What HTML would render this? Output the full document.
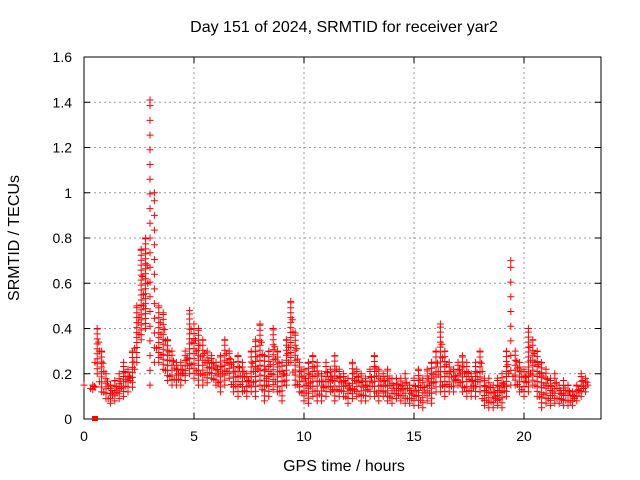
<!DOCTYPE html>
<html><head><meta charset="utf-8"><style>
body{margin:0;background:#fff}
svg{display:block;font-family:"Liberation Sans",sans-serif}
</style></head><body>
<svg id="chart" width="640" height="480">
<text x="344" y="32" font-size="16" text-anchor="middle">Day 151 of 2024, SRMTID for receiver yar2</text>
<text x="344" y="471" font-size="16" text-anchor="middle">GPS time / hours</text>
<text transform="translate(19,238) rotate(-90)" font-size="16" text-anchor="middle">SRMTID / TECUs</text>
<g id="grid"></g>
<g id="axes"></g>
<g id="marks"></g>
</svg>
<script>
const times=[0.4,0.6,0.8,1.0,1.2,1.4,1.6,1.8,2.0,2.2,2.4,2.6,2.8,3.0,3.2,3.4,3.6,3.8,4.0,4.2,4.4,4.6,4.8,5.0,5.2,5.4,5.6,5.8,6.0,6.2,6.4,6.6,6.8,7.0,7.2,7.4,7.6,7.8,8.0,8.2,8.4,8.6,8.8,9.0,9.2,9.4,9.6,9.8,10.0,10.2,10.4,10.6,10.8,11.0,11.2,11.4,11.6,11.8,12.0,12.2,12.4,12.6,12.8,13.0,13.2,13.4,13.6,13.8,14.0,14.2,14.4,14.6,14.8,15.0,15.2,15.4,15.6,15.8,16.0,16.2,16.4,16.6,16.8,17.0,17.2,17.4,17.6,17.8,18.0,18.2,18.4,18.6,18.8,19.0,19.2,19.4,19.6,19.8,20.0,20.2,20.4,20.6,20.8,21.0,21.2,21.4,21.6,21.8,22.0,22.2,22.4,22.6,22.8];
const hiVals=[0.15,0.40,0.30,0.20,0.15,0.17,0.20,0.25,0.22,0.30,0.50,0.75,0.80,1.41,1.00,0.50,0.47,0.35,0.30,0.25,0.25,0.30,0.48,0.42,0.40,0.35,0.30,0.28,0.25,0.28,0.35,0.30,0.25,0.28,0.25,0.20,0.30,0.35,0.42,0.28,0.30,0.40,0.30,0.25,0.35,0.52,0.38,0.25,0.22,0.25,0.28,0.25,0.20,0.25,0.22,0.28,0.22,0.20,0.18,0.25,0.22,0.20,0.18,0.22,0.28,0.22,0.20,0.22,0.18,0.18,0.18,0.20,0.15,0.18,0.22,0.18,0.22,0.25,0.30,0.42,0.30,0.25,0.22,0.25,0.28,0.25,0.20,0.25,0.30,0.18,0.18,0.15,0.18,0.20,0.30,0.70,0.30,0.25,0.22,0.40,0.35,0.30,0.25,0.22,0.18,0.20,0.15,0.17,0.15,0.12,0.15,0.20,0.18];
const loVals=[0.13,0.20,0.12,0.09,0.07,0.08,0.09,0.10,0.12,0.14,0.25,0.35,0.40,0.15,0.25,0.25,0.22,0.17,0.15,0.15,0.15,0.17,0.20,0.18,0.15,0.15,0.16,0.18,0.15,0.12,0.15,0.18,0.12,0.10,0.12,0.10,0.12,0.10,0.15,0.08,0.10,0.13,0.12,0.08,0.15,0.25,0.15,0.12,0.08,0.07,0.10,0.08,0.08,0.10,0.12,0.08,0.10,0.10,0.07,0.09,0.10,0.08,0.08,0.10,0.10,0.08,0.10,0.08,0.07,0.09,0.08,0.07,0.07,0.06,0.06,0.05,0.08,0.07,0.12,0.12,0.10,0.12,0.12,0.15,0.12,0.10,0.10,0.10,0.12,0.06,0.05,0.05,0.06,0.05,0.10,0.15,0.15,0.12,0.10,0.12,0.15,0.10,0.05,0.07,0.06,0.07,0.07,0.06,0.06,0.06,0.08,0.10,0.12];
const xTicks=[0,5,10,15,20];
const yTicks=[0,0.2,0.4,0.6,0.8,1,1.2,1.4,1.6];
const NS='http://www.w3.org/2000/svg';
const L=84,R=601,T=57,B=419,XMAX=23.5,YMAX=1.6;
const xs=v=>L+(R-L)*v/XMAX;
const ys=v=>B-(B-T)*v/YMAX;
function mk(tag,attrs,parent){const e=document.createElementNS(NS,tag);for(const k in attrs)e.setAttribute(k,attrs[k]);parent.appendChild(e);return e;}
const grid=document.getElementById('grid'),axes=document.getElementById('axes'),marks=document.getElementById('marks');
xTicks.forEach(v=>{
  const x=xs(v);
  if(v>0){const g=mk('line',{x1:x,x2:x,y1:T,y2:B,stroke:'#999','stroke-dasharray':'2,3'},grid);
  
  }
  mk('line',{x1:x,x2:x,y1:B,y2:B-6,stroke:'#000'},axes);
  mk('line',{x1:x,x2:x,y1:T,y2:T+6,stroke:'#000'},axes);
  const t=mk('text',{x:x,y:B+22,'font-size':14,'text-anchor':'middle'},axes);t.textContent=v;
  
  
});
yTicks.forEach(v=>{
  const y=ys(v);
  if(v>0&&v<YMAX){const g=mk('line',{x1:L,x2:R,y1:y,y2:y,stroke:'#999','stroke-dasharray':'2,3'},grid);
  
  }
  mk('line',{x1:L,x2:L+6,y1:y,y2:y,stroke:'#000'},axes);
  mk('line',{x1:R,x2:R-6,y1:y,y2:y,stroke:'#000'},axes);
  const t=mk('text',{x:L-12,y:y+5,'font-size':14,'text-anchor':'end'},axes);t.textContent=v;
  
  
});
mk('rect',{x:L,y:T,width:R-L,height:B-T,fill:'none',stroke:'#000'},axes);
let d='';
function plus(x,y){d+=`M${(x-3.5).toFixed(1)},${y.toFixed(1)}h7M${x.toFixed(1)},${(y-3.5).toFixed(1)}v7`;}
times.forEach((t,i)=>{
  const x=xs(t),hi=hiVals[i],lo=loVals[i];
  const span=hi-lo;
  const step=span>0.5?0.065:0.022;
  for(let v=lo;v<=hi+1e-9;v+=step){plus(x,ys(v));}
  plus(x,ys(hi));
  if(span<=0.5){
    plus(x+2.2,ys((hi+lo)/2));
    plus(x-2.2,ys(lo+span*0.25));
    plus(x+1.5,ys(lo+span*0.7));
  }
});
plus(xs(0),ys(0.15));
const p=mk('path',{d:d,stroke:'#f00','stroke-width':1,fill:'none'},marks);


const sq=mk('rect',{x:xs(0.5)-3,y:B-3,width:6,height:5,fill:'#f00'},marks);


</script>
</body></html>
